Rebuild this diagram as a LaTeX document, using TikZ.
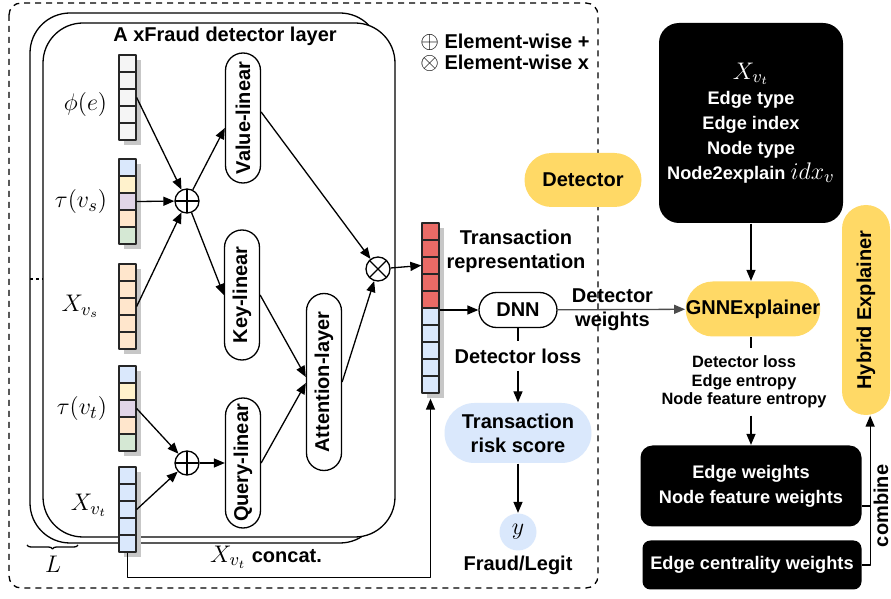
\documentclass[tikz,border=0pt]{standalone}
\usepackage{amsmath}
\usepackage{fontspec}
\setmainfont{Liberation Sans}
\usetikzlibrary{positioning,arrows.meta,decorations.pathreplacing}

\definecolor{ylw}{HTML}{FFD966}
\definecolor{lblue}{HTML}{DAE8FC}
\definecolor{lred}{HTML}{EA6B66}
\definecolor{lylw}{HTML}{FFF2CC}
\definecolor{lpurp}{HTML}{E1D5E7}
\definecolor{lorng}{HTML}{FFE6CC}
\definecolor{lgrn}{HTML}{D5E8D4}
\definecolor{lgray}{HTML}{F5F5F5}

\tikzset{
  cell/.style={draw=black!85, fill=#1, minimum size=8.5pt, inner sep=0pt},
  arr/.style={-{Triangle[length=5.5pt,width=4.5pt]}},
  mathlbl/.style={font=\fontsize{13}{15}\selectfont},
  lin/.style={draw, rounded corners=8.75pt, minimum width=17.5pt, minimum height=65pt, inner sep=0pt},
  pill/.style={draw, rounded corners=8.75pt, minimum width=39pt, minimum height=17.5pt, inner sep=0pt},
  ybox/.style={fill=ylw, rounded corners=13.5pt, inner sep=0pt},
  bbox/.style={fill=black, text=white, align=center, inner sep=0pt,
    font=\bfseries\fontsize{9.1}{12.5}\selectfont},
  opl/.style={circle, draw, minimum size=12pt, inner sep=0pt, path picture={
    \draw (path picture bounding box.north) -- (path picture bounding box.south)
          (path picture bounding box.west) -- (path picture bounding box.east);}},
  omul/.style={circle, draw, minimum size=12pt, inner sep=0pt, path picture={
    \draw ([shift={(45:6pt)}]path picture bounding box.center) -- ([shift={(225:6pt)}]path picture bounding box.center)
          ([shift={(135:6pt)}]path picture bounding box.center) -- ([shift={(315:6pt)}]path picture bounding box.center);}}
}

% column vector: name, left x, top y, cell colours
\newcommand{\vect}[4]{%
  \foreach \c [count=\i] in {#4} {
    \fill[black!22] (#2+5,#3+17*\i-12) rectangle ++(17,17);
    \node[cell=\c] (#1-\i) at (#2+8.5,#3+17*\i-8.5) {};
  }
}
\newcommand{\lgmath}[1]{{\fontsize{13}{15}\selectfont$#1$}}

\begin{document}
\begin{tikzpicture}[x=0.5pt, y=-0.5pt, line width=0.65pt, line join=round,
  every node/.style={font=\bfseries\fontsize{10}{12}\selectfont}]
  \useasboundingbox (0,0) rectangle (891,599);
  \fill[white] (0,0) rectangle (891,599);

  % detector part
  \draw[dash pattern=on 3pt off 2.5pt, rounded corners=6pt] (9,3) rectangle (598,588);
  \draw[rounded corners=20pt] (30,13) rectangle (380,543);
  \draw[fill=white, rounded corners=20pt] (43,23) rectangle (395,537);
  \draw[dash pattern=on 1.5pt off 1.5pt] (30,279) -- (43,279);
  \draw[decorate, decoration={brace, mirror, amplitude=2pt}] (27,545) -- (78,545);
  \node[mathlbl] (Lnum) at (53,564) {$L$};

  \node (title) at (225,36) {A xFraud detector layer};
  \node[anchor=west] (plusleg) at (413,42) {\lgmath{\oplus} Element-wise +};
  \node[anchor=west] (timesleg) at (413,63) {\lgmath{\otimes} Element-wise x};

  \vect{phi}{119}{55}{lgray,lgray,lgray,lgray,lgray}
  \vect{taus}{119}{159}{lblue,lylw,lpurp,lorng,lgrn}
  \vect{xvs}{119}{264}{lorng,lorng,lorng,lorng,lorng}
  \vect{taut}{119}{366}{lblue,lylw,lpurp,lorng,lgrn}
  \vect{xvt}{119}{467}{lblue,lblue,lblue,lblue,lblue}
  \vect{trans}{422}{223}{lred,lred,lred,lred,lred,lblue,lblue,lblue,lblue,lblue}

  \node[mathlbl, left=2pt of phi-3, yshift=-3.5pt] (philbl) {$\phi(e)$};
  \node[mathlbl, left=2pt of taus-3] (tauslbl) {$\tau(v_s)$};
  \node[mathlbl, left=6pt of xvs-3] (xvslbl) {$X_{v_s}$};
  \node[mathlbl, left=2pt of taut-3] (tautlbl) {$\tau(v_t)$};
  \node[mathlbl, left=2pt of xvt-3, yshift=2pt] (xvtlbl) {$X_{v_t}$};

  \node[opl] (add1) at (187,201) {};
  \node[opl] (add2) at (187,463) {};
  \node[omul] (mul) at (378,269) {};

  \node[lin] (vlin) at (243,118) {\rotatebox{90}{Value-linear}};
  \node[lin] (klin) at (242,295) {\rotatebox{90}{Key-linear}};
  \node[lin] (qlin) at (243,463) {\rotatebox{90}{Query-linear}};
  \node[lin, minimum height=88.5pt] (att) at (324,382) {\rotatebox{90}{Attention-layer}};

  \foreach \v in {phi,taus,xvs}
    \draw[arr] (\v-3.east) -- (add1);
  \foreach \v in {taut,xvt}
    \draw[arr] (\v-3.east) -- (add2);
  \draw[arr] (add1) -- ([yshift=-5pt]vlin.west);
  \draw[arr] (add1) -- (klin.west);
  \draw[arr] (add2) -- (qlin.west);
  \draw[arr] ([yshift=3pt]vlin.east) -- (mul);
  \draw[arr] (klin.east) -- ([yshift=2.5pt]att.west);
  \draw[arr] (qlin.east) -- ([yshift=-0.5pt]att.west);
  \draw[arr] (att.east) -- (mul);
  \draw[arr] (mul) -- (trans-3.west);
  \draw[arr] (xvt-5.south) -- ++(0,25) -| ([yshift=-2.5pt]trans-10.south);
  \node (cclbl) at (266,557) {\lgmath{X_{v_t}} concat.};

  \node[align=center] (translbl) at (516,251) {Transaction\\representation};
  \node[pill] (dnn) at (518,310) {DNN};
  \draw[arr] (trans-5.east |- dnn.west) -- (dnn);
  \node (dloss) at (518,356) {Detector loss};
  \node[fill=lblue, rounded corners=15pt, minimum width=73.5pt, minimum height=30pt,
    inner sep=0pt, align=center] (risk) at (518,433) {Transaction\\risk score};
  \node[circle, fill=lblue, minimum size=18.5pt, inner sep=0pt, mathlbl] (yout) at (518,532) {$y$};
  \node (fl) at (518,565) {Fraud/Legit};
  \draw (dnn) -- (dloss);
  \draw[arr] (dloss) -- (risk);
  \draw[arr] (risk) -- (yout);

  % explainer part
  \node[ybox, minimum width=58.5pt, minimum height=27pt] (det) at (583,180) {Detector};
  \node[bbox, rounded corners=10pt, minimum width=92pt, minimum height=100pt] (inp) at (751,123)
    {\lgmath{X_{v_t}}\\[0pt] Edge type\\Edge index\\Node type\\Node2explain \lgmath{idx_v}};
  \node[ybox, minimum width=66.5pt, minimum height=27.5pt] (gnn) at (753,309) {GNNExplainer};
  \draw[arr] (inp.south -| 751,0) -- (gnn.north -| 751,0);
  \draw[arr, black!70] (dnn) -- node[pos=0.43, align=center, text=black] (dwlbl) {Detector\\weights} (gnn);

  \node[align=center, font=\bfseries\fontsize{8.2}{9.3}\selectfont] (eloss) at (744,382)
    {Detector loss\\Edge entropy\\Node feature entropy};
  \node[bbox, rounded corners=6pt, minimum width=110.5pt, minimum height=40.5pt] (ewt) at (751,486)
    {Edge weights\\Node feature weights};
  \node[bbox, rounded corners=4pt, minimum width=109.5pt, minimum height=24.5pt] (ecw) at (752,565)
    {Edge centrality weights};
  \draw (gnn.south -| 751,0) -- (eloss.north -| 751,0);
  \draw[arr] (eloss.south -| 751,0) -- (ewt.north -| 751,0);

  \node[ybox, rounded corners=12pt, minimum width=24pt, minimum height=105pt] (hyb) at (866,310)
    {\rotatebox{90}{Hybrid Explainer}};
  \draw[arr] (ecw.east) -- ++(8,0) coordinate (cmb) -- (cmb |- hyb.south);
  \draw ([yshift=-10pt]ewt.east) -- ++(8,0);
  \node[rotate=90, inner sep=1pt] (comb) at (881,506) {combine};
\end{tikzpicture}
\end{document}
